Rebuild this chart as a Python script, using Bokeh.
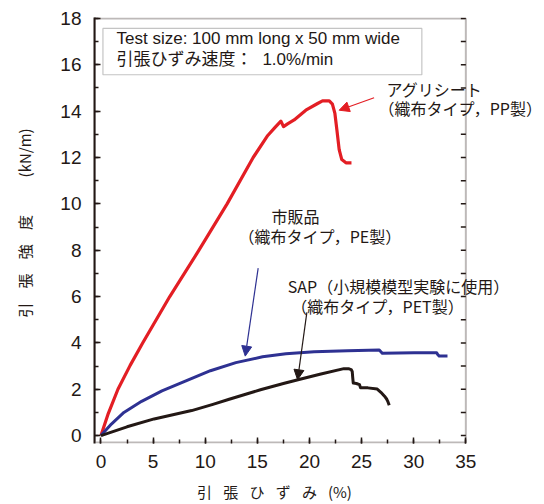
from bokeh.plotting import figure
from bokeh.models import (Range1d, FixedTicker, SingleIntervalTicker,
                          Label, Arrow, NormalHead, BoxAnnotation)
from bokeh.embed import file_html
from bokeh.resources import INLINE

# Tensile strain (%) vs tensile strength (kN/m)
agri_strain = [0, 0.7, 1.63, 2.8, 4.0, 6.6, 9.4, 12.1, 14.6, 16.0, 16.7, 17.26,
               17.51, 17.9, 18.53, 19.65, 20.78, 21.25, 21.9, 22.2, 22.44, 22.63,
               22.85, 23.1, 23.5, 24.03]
agri_strength = [0, 0.95, 2.0, 3.03, 4.0, 6.0, 8.0, 10.0, 12.0, 12.95, 13.3, 13.57,
                 13.33, 13.45, 13.62, 14.04, 14.33, 14.44, 14.44, 14.3, 13.9, 13.19,
                 12.34, 11.91, 11.77, 11.77]

pe_strain = [0, 1.0, 2.2, 3.9, 5.85, 8.15, 10.5, 12.94, 15.5, 17.74, 20.45,
             23.65, 26.7, 26.85, 27.0, 30.04, 32.2, 32.3, 32.45, 33.24]
pe_strength = [0, 0.5, 1.0, 1.48, 1.93, 2.36, 2.8, 3.15, 3.40, 3.53, 3.62,
               3.66, 3.69, 3.62, 3.55, 3.58, 3.58, 3.5, 3.43, 3.43]

sap_strain = [0, 2.5, 5.1, 8.7, 10.74, 12.3, 15.3, 17.5, 18.9, 21.0, 23.3, 23.8, 24.0,
              24.1, 24.15, 24.2, 24.5, 24.8, 24.9, 25.6, 26.5, 26.85, 27.2, 27.4,
              27.5, 27.65]
sap_strength = [0, 0.38, 0.72, 1.08, 1.35, 1.57, 1.98, 2.25, 2.41, 2.65, 2.89, 2.88,
                2.85, 2.77, 2.5, 2.27, 2.25, 2.2, 2.06, 2.06, 2.01, 1.87, 1.7, 1.58,
                1.49, 1.31]

x_ticks = [0, 5, 10, 15, 20, 25, 30, 35]
x_minor = [2.5 * k for k in range(15)]
y_side_ticks = list(range(0, 19))

RED = "#e31e24"
BLUE = "#2e3192"
BLACK = "#231815"
JP = "'Noto Sans CJK JP'"
MIX = "'Liberation Sans', 'Noto Sans CJK JP'"

W, H = 544, 504
BL, BT, BB = 94, 17, 57
X0, X1, Y0, Y1 = -0.6, 35, -0.3, 18        # drawn plot box
PX_PER_X = 10.43                            # horizontal scale of the box

# the frame reaches the right edge so that the notes beside the box stay visible
p = figure(width=W, height=H, output_backend="svg", toolbar_location=None,
           x_range=Range1d(X0 - 0.02, X0 + (W - BL) / PX_PER_X),
           y_range=Range1d(Y0 - 0.04, Y1 + 0.04),
           min_border_left=BL, min_border_right=0,
           min_border_top=BT, min_border_bottom=BB)
p.grid.visible = False
p.outline_line_color = None
p.background_fill_color = "white"
p.border_fill_color = "white"

p.xaxis.ticker = FixedTicker(ticks=x_ticks, minor_ticks=x_minor)
p.yaxis.ticker = SingleIntervalTicker(interval=2, num_minor_ticks=2)

for ax in (p.xaxis[0], p.yaxis[0]):
    ax.axis_line_color = BLACK
    ax.axis_line_width = 2
    ax.major_tick_in = 6
    ax.major_tick_out = 0
    ax.minor_tick_in = 4
    ax.minor_tick_out = 0
    ax.major_tick_line_color = BLACK
    ax.minor_tick_line_color = BLACK
    ax.major_tick_line_width = 1.5
    ax.minor_tick_line_width = 1.5
    ax.major_label_text_font = "Liberation Sans"
    ax.major_label_text_font_size = "19px"
    ax.major_label_text_color = BLACK
    ax.axis_label_text_font = JP
    ax.axis_label_text_font_size = "15px"
    ax.axis_label_text_font_style = "normal"
    ax.axis_label_text_color = BLACK

p.xaxis.axis_line_color = None
p.xaxis.major_label_standoff = 11
p.yaxis.major_label_standoff = 13
p.xaxis.axis_label = ("引\u2002\u2005張\u2002\u2005ひ\u2002\u2005ず\u2002\u2005み\u2002 (%)"
                      + "\u3000" * 6)
p.yaxis.axis_label = ("\u3000引\u2002\u2005\u2009張\u2002\u2005\u2009強\u2002\u2005\u2009度"
                      "\u3000\u3000\u2002(kN/m)")
p.xaxis.axis_label_standoff = 10
p.yaxis.axis_label_standoff = 22

# plot box (top, right and bottom edges) with inward ticks on the right side
p.add_layout(BoxAnnotation(left=X0, right=X1, bottom=Y0, top=Y1,
                           fill_color=None, line_color=BLACK, line_width=2))
p.segment(x0=[X1] * len(y_side_ticks), y0=y_side_ticks,
          x1=[X1 - 5 / PX_PER_X] * len(y_side_ticks), y1=y_side_ticks,
          line_color=BLACK, line_width=1.5)

# curves
p.line(agri_strain, agri_strength, line_color=RED, line_width=3.2, line_join="round")
p.line(pe_strain, pe_strength, line_color=BLUE, line_width=3, line_join="round")
p.line(sap_strain, sap_strength, line_color=BLACK, line_width=3, line_join="round")

# test condition box
p.add_layout(BoxAnnotation(left=0.19, right=30.78, bottom=15.57, top=17.57,
                           fill_color=None, line_color="#3c3c3c", line_width=1.2))


def label(px, py, text, font=JP, size="16px", align="left"):
    # px, py: canvas position (from top-left), converted to frame offsets
    p.add_layout(Label(x=px - BL, y=(H - BB) - py, x_units="screen", y_units="screen",
                       text=text, text_font=font, text_font_size=size,
                       text_baseline="middle", text_align=align, text_color=BLACK))


label(116, 42, "Test size: 100 mm long x 50 mm wide", font=MIX, size="17px")
label(116, 63, "引張ひずみ速度：\u2002\u200a1.0%/min", font=MIX, size="17px")

label(386, 92, "アグリシート")
label(378, 111, "（織布タイプ，PP製）")
label(271, 219, "市販品")
label(238, 239, "（織布タイプ，PE製）")
label(398, 289, "SAP（小規模模型実験に使用）", align="center")
label(377, 309, "（織布タイプ，PET製）", align="center")

# leader arrows
for (x0, y0, x1, y1, c) in [(26.2, 14.58, 22.85, 14.04, RED),
                            (15.08, 7.23, 13.84, 3.43, BLUE),
                            (19.75, 5.32, 18.86, 2.41, BLACK)]:
    p.add_layout(Arrow(x_start=x0, y_start=y0, x_end=x1, y_end=y1,
                       line_color=c, line_width=1.2,
                       end=NormalHead(size=10, fill_color=c, line_color=c)))

open("out.html", "w").write(file_html(p, INLINE))
